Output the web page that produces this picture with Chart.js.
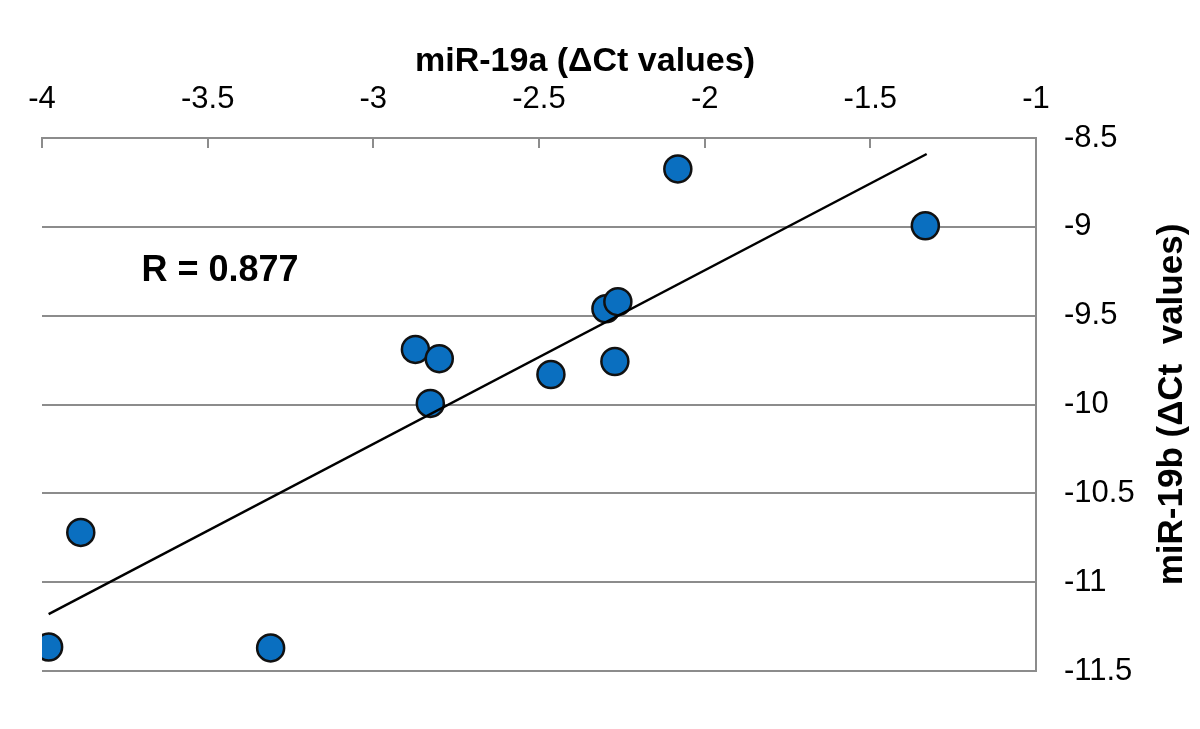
<!DOCTYPE html>
<html>
<head>
<meta charset="utf-8">
<script src="https://cdn.jsdelivr.net/npm/chart.js@4.4.1/dist/chart.umd.min.js"></script>
<style>
  body { margin: 0; background: #fff; }
</style>
</head>
<body>
<canvas id="chart" width="1200" height="729"></canvas>
<script>
// miR-19a vs miR-19b delta Ct values
const mir19a = [-3.98, -3.883, -3.31, -2.873, -2.828, -2.801, -2.464, -2.298, -2.271, -2.262, -2.081, -1.334]
const mir19b = [-11.365, -10.72, -11.37, -9.69, -9.994, -9.742, -9.831, -9.461, -9.758, -9.421, -8.674, -8.994]

// fitted line end points as drawn
const trendX = [-3.98, -1.33]
const trendY = [-11.18, -8.59]

const xTicks = [-4, -3.5, -3, -2.5, -2, -1.5, -1]
const yTicks = [-11.5, -11, -10.5, -10, -9.5, -9, -8.5]

const xTitle = 'miR-19a (\u0394Ct values)'
const yTitle = 'miR-19b (\u0394Ct  values)'
const rLabel = 'R = 0.877'
const rPos = [-3.7, -9.25]

const axisGrey = '#8c8c8c'
const sans = '"Liberation Sans", Arial, sans-serif'

const extras = {
    id: 'extras',
    afterDraw(chart) {
        const ctx = chart.ctx
        const x = chart.scales.x
        const y = chart.scales.y
        const area = chart.chartArea
        ctx.save()
        // short tick marks pointing down from the top axis
        ctx.strokeStyle = axisGrey
        ctx.lineWidth = 2
        xTicks.forEach(v => {
            const px = Math.round(x.getPixelForValue(v))
            ctx.beginPath()
            ctx.moveTo(px, area.top)
            ctx.lineTo(px, area.top + 10)
            ctx.stroke()
        })
        ctx.fillStyle = '#000'
        // top title
        ctx.font = 'bold 34px ' + sans
        ctx.textAlign = 'center'
        ctx.textBaseline = 'middle'
        ctx.fillText(xTitle, 585, 62)
        // right title, reads bottom to top
        ctx.font = 'bold 35px ' + sans
        ctx.translate(area.right + 136, (area.top + area.bottom) / 2)
        ctx.rotate(-Math.PI / 2)
        ctx.fillText(yTitle, 0, 0)
        ctx.restore()
        // correlation label
        ctx.save()
        ctx.fillStyle = '#000'
        ctx.font = 'bold 36px ' + sans
        ctx.textAlign = 'left'
        ctx.textBaseline = 'middle'
        ctx.fillText(rLabel, x.getPixelForValue(rPos[0]), y.getPixelForValue(rPos[1]))
        ctx.restore()
    }
}

const points = mir19a.map((v, i) => ({x: v, y: mir19b[i]}))
const trend = trendX.map((v, i) => ({x: v, y: trendY[i]}))

new Chart(document.getElementById('chart'), {
    type: 'scatter',
    data: {
        datasets: [{
            data: trend,
            showLine: true,
            borderColor: '#000',
            borderWidth: 2.5,
            pointRadius: 0,
            order: 0
        }, {
            data: points,
            pointRadius: 13.5,
            pointHoverRadius: 13.5,
            backgroundColor: '#0a6fc0',
            borderColor: '#111',
            borderWidth: 2.5,
            order: 1
        }]
    },
    options: {
        responsive: false,
        animation: false,
        layout: { padding: { left: 42, right: 0, top: 0, bottom: 58 } },
        plugins: { legend: { display: false }, tooltip: { enabled: false } },
        scales: {
            x: {
                type: 'linear',
                position: 'top',
                min: -4,
                max: -1,
                afterBuildTicks: s => { s.ticks = xTicks.map(v => ({value: v})) },
                afterFit: s => { s.height = 138 },
                grid: { display: false },
                border: { display: true, color: axisGrey, width: 2 },
                ticks: {
                    color: '#000',
                    padding: 12,
                    maxRotation: 0,
                    font: { family: sans, size: 31 },
                    callback: v => String(v)
                }
            },
            y: {
                type: 'linear',
                position: 'right',
                min: -11.5,
                max: -8.5,
                afterBuildTicks: s => { s.ticks = yTicks.map(v => ({value: v})) },
                afterFit: s => { s.width = 164 },
                grid: { color: axisGrey, lineWidth: 2, drawTicks: false },
                border: { display: true, color: axisGrey, width: 2 },
                ticks: {
                    color: '#000',
                    padding: 28,
                    font: { family: sans, size: 31 },
                    callback: v => String(v)
                }
            }
        }
    },
    plugins: [extras]
})
</script>
</body>
</html>
